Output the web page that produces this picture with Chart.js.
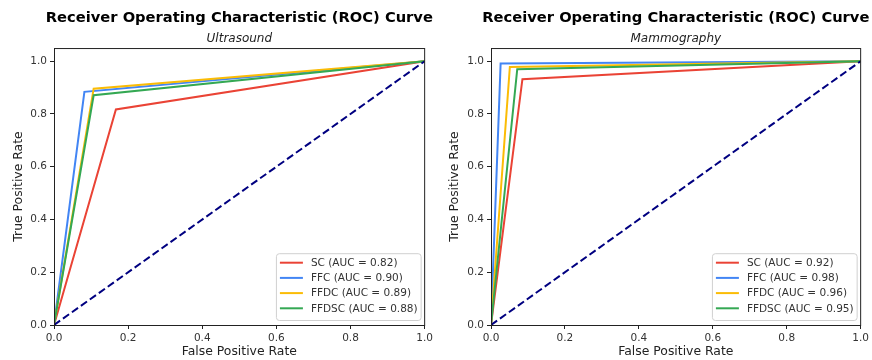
<!DOCTYPE html>
<html>
<head>
<meta charset="utf-8">
<script src="https://cdn.jsdelivr.net/npm/chart.js@4.4.1/dist/chart.umd.min.js"></script>
<style>
  body { margin: 0; background: #fff; }
  .panel { position: absolute; top: 0; width: 436px; height: 360px; }
</style>
</head>
<body>
<div class="panel" style="left:0"><canvas id="usChart"></canvas></div>
<div class="panel" style="left:436px"><canvas id="mgChart"></canvas></div>
<script>
// models and their colours
const models = ['SC', 'FFC', 'FFDC', 'FFDSC'];
const colors = ['#ea4335', '#4285f4', '#fbbc05', '#34a853'];

// single operating point per model (curve goes (0,0) -> point -> (1,1))
const usFpr = [0.167, 0.082, 0.107, 0.107];
const usTpr = [0.817, 0.884, 0.896, 0.871];
const usAuc = [0.82, 0.90, 0.89, 0.88];

const mgFpr = [0.085, 0.026, 0.051, 0.071];
const mgTpr = [0.932, 0.991, 0.978, 0.970];
const mgAuc = [0.92, 0.98, 0.96, 0.95];

const tickValues = [0, 0.2, 0.4, 0.6, 0.8, 1.0];

const FONT = "'DejaVu Sans', sans-serif";

// draws the axes frame
const framePlugin = {
    id: 'frame',
    afterLayout(chart) {
        // title is centred over the plot area but may be wider than it
        const t = chart.titleBlock;
        if (t) {
            const c = (chart.chartArea.left + chart.chartArea.right) / 2;
            t.left = c - 215;
            t.right = c + 215;
        }
    },
    afterDraw(chart) {
        const { ctx, chartArea: a } = chart;
        ctx.save();
        ctx.strokeStyle = '#222';
        ctx.lineWidth = 1;
        ctx.strokeRect(a.left + 0.5, a.top + 0.5, a.right - a.left - 0.5, a.bottom - a.top);
        ctx.restore();
    }
};

// matplotlib-like legend in the lower right corner
const legendPlugin = {
    id: 'boxLegend',
    afterDraw(chart) {
        const { ctx, chartArea: a } = chart;
        const items = chart.data.datasets.filter(d => d.label);
        ctx.save();
        ctx.font = '10.5px ' + FONT;
        const textW = Math.max(...items.map(d => ctx.measureText(d.label).width));
        const rowH = 15.2;
        const w = 35 + textW + 3;
        const h = items.length * rowH + 6;
        const x = a.right - 4 - w;
        const y = a.bottom - 5 - h;
        ctx.fillStyle = 'rgba(255,255,255,0.85)';
        ctx.strokeStyle = '#d0d0d0';
        ctx.lineWidth = 1;
        ctx.beginPath();
        ctx.roundRect(x + 0.5, y + 0.5, w, h, 3);
        ctx.fill();
        ctx.stroke();
        items.forEach((d, i) => {
            const cy = y + 9.5 + i * rowH;
            ctx.strokeStyle = d.borderColor;
            ctx.lineWidth = 2;
            ctx.beginPath();
            ctx.moveTo(x + 4, cy);
            ctx.lineTo(x + 27, cy);
            ctx.stroke();
            ctx.fillStyle = '#333';
            ctx.textBaseline = 'middle';
            ctx.fillText(d.label, x + 35, cy + 0.5);
        });
        ctx.restore();
    }
};

function buildChart(id, subtitle, fpr, tpr, auc, leftW, rightPad) {
    const datasets = models.map((m, i) => ({
        label: m + ' (AUC = ' + auc[i].toFixed(2) + ')',
        data: [{ x: 0, y: 0 }, { x: fpr[i], y: tpr[i] }, { x: 1, y: 1 }],
        borderColor: colors[i],
        borderWidth: 2,
        pointRadius: 0,
        tension: 0,
        order: 4 - i
    }));
    datasets.push({
        label: '',
        data: [{ x: 0, y: 0 }, { x: 1, y: 1 }],
        borderColor: '#000080',
        borderWidth: 2,
        borderDash: [7.5, 3.5],
        pointRadius: 0,
        order: 0
    });

    const axisCommon = {
        type: 'linear',
        min: 0,
        grid: { display: true, drawOnChartArea: false, drawTicks: true, tickLength: 4, color: '#222' },
        border: { display: true, color: '#222' },
        ticks: {
            color: '#333',
            font: { family: FONT, size: 10.5 },
            padding: 3,
            callback: v => v.toFixed(1)
        },
        afterBuildTicks: s => { s.ticks = tickValues.map(v => ({ value: v })); }
    };

    return new Chart(document.getElementById(id), {
        type: 'line',
        data: { datasets },
        plugins: [framePlugin, legendPlugin],
        options: {
            responsive: false,
            animation: false,
            layout: { padding: { left: 0, right: rightPad, top: 0, bottom: 0 } },
            plugins: {
                legend: { display: false },
                tooltip: { enabled: false },
                title: {
                    display: true,
                    fullSize: false,
                    text: 'Receiver Operating Characteristic (ROC) Curve',
                    color: '#000',
                    font: { family: FONT, size: 14.7, weight: 'bold', lineHeight: 1.2 },
                    padding: { top: 9.4, bottom: 2 }
                },
                subtitle: {
                    display: true,
                    fullSize: false,
                    text: subtitle,
                    color: '#222',
                    font: { family: FONT, size: 12, style: 'italic', lineHeight: 1.2 },
                    padding: { top: 2.4, bottom: 2.2 }
                }
            },
            scales: {
                x: Object.assign({}, axisCommon, {
                    max: 1,
                    title: { display: true, text: 'False Positive Rate', color: '#222', font: { family: FONT, size: 12.4 }, padding: { top: 0, bottom: 1 } },
                    afterFit: s => { s.height = 35; }
                }),
                y: Object.assign({}, axisCommon, {
                    max: 1.05,
                    title: { display: true, text: 'True Positive Rate', color: '#222', font: { family: FONT, size: 12.4 }, padding: { top: 11, bottom: 0 } },
                    afterFit: s => { s.width = leftW; }
                })
            }
        }
    });
}

function size(id) {
    const c = document.getElementById(id);
    c.width = 436; c.height = 360;
    c.style.width = '436px'; c.style.height = '360px';
}
size('usChart');
size('mgChart');

buildChart('usChart', 'Ultrasound', usFpr, usTpr, usAuc, 54, 10);
buildChart('mgChart', 'Mammography', mgFpr, mgTpr, mgAuc, 55, 9);
</script>
</body>
</html>
